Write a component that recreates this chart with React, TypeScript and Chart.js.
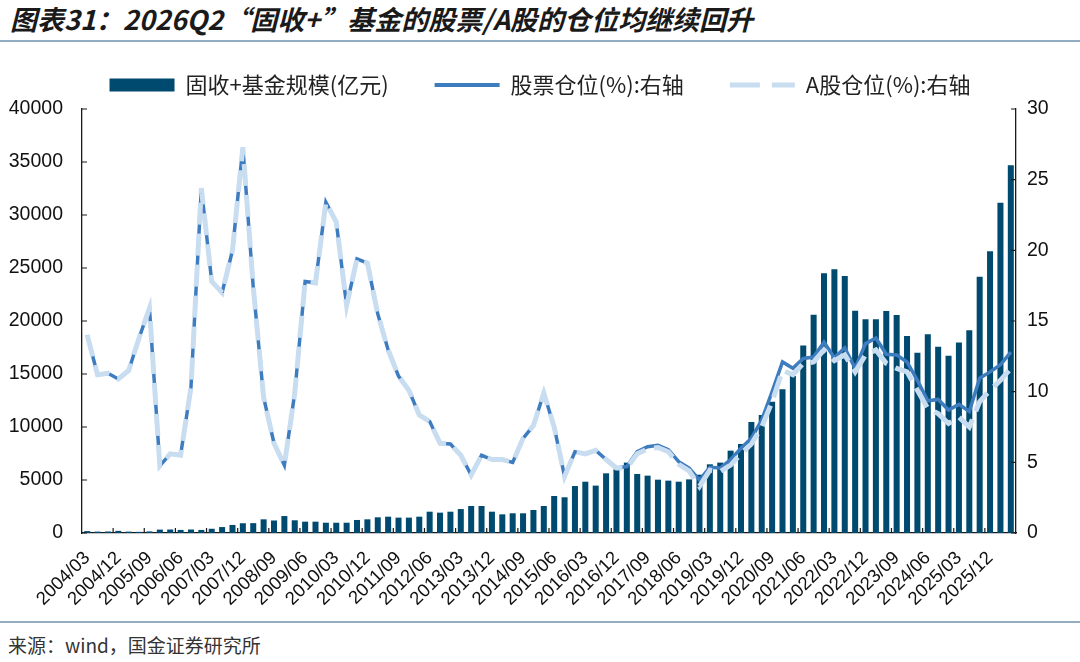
import { useEffect, useRef } from "react";
import { Chart, registerables } from "chart.js";

Chart.register(...registerables);

// 2004Q1 .. 2026Q2, quarterly
const categories = [
  "2004/03", "2004/06", "2004/09", "2004/12",
  "2005/03", "2005/06", "2005/09", "2005/12",
  "2006/03", "2006/06", "2006/09", "2006/12",
  "2007/03", "2007/06", "2007/09", "2007/12",
  "2008/03", "2008/06", "2008/09", "2008/12",
  "2009/03", "2009/06", "2009/09", "2009/12",
  "2010/03", "2010/06", "2010/09", "2010/12",
  "2011/03", "2011/06", "2011/09", "2011/12",
  "2012/03", "2012/06", "2012/09", "2012/12",
  "2013/03", "2013/06", "2013/09", "2013/12",
  "2014/03", "2014/06", "2014/09", "2014/12",
  "2015/03", "2015/06", "2015/09", "2015/12",
  "2016/03", "2016/06", "2016/09", "2016/12",
  "2017/03", "2017/06", "2017/09", "2017/12",
  "2018/03", "2018/06", "2018/09", "2018/12",
  "2019/03", "2019/06", "2019/09", "2019/12",
  "2020/03", "2020/06", "2020/09", "2020/12",
  "2021/03", "2021/06", "2021/09", "2021/12",
  "2022/03", "2022/06", "2022/09", "2022/12",
  "2023/03", "2023/06", "2023/09", "2023/12",
  "2024/03", "2024/06", "2024/09", "2024/12",
  "2025/03", "2025/06", "2025/09", "2025/12",
  "2026/03", "2026/06",
];

// 固收+基金规模(亿元)
const fundScale = [
  180, 130, 140, 200, 130, 110, 150, 320,
  330, 290, 330, 290, 400, 560, 760, 920,
  930, 1290, 1180, 1600, 1200, 1070, 1070, 970,
  970, 970, 1230, 1290, 1480, 1540, 1450, 1450,
  1540, 2010, 1920, 2010, 2260, 2550, 2550, 2010,
  1760, 1860, 1860, 2170, 2550, 3490, 3370, 4430,
  4840, 4470, 5630, 6010, 6640, 5570, 5410, 5030,
  4940, 4840, 5060, 5500, 6480, 6640, 7770, 8400,
  10470, 11130, 12390, 13550, 14810, 17700, 20600, 24500,
  24880, 24250, 20970, 20160, 20160, 20940, 20570, 18590,
  17010, 18740, 17580, 16730, 17960, 19120, 24180, 26570,
  31160, 34690,
];

// 股票仓位(%)
const stockPosition = [
  14.0, 11.2, 11.3, 10.9, 11.5, 13.8, 15.9, 4.75,
  5.6, 5.5, 10.3, 24.4, 17.8, 17.0, 20.0, 27.3,
  17.4, 9.6, 6.35, 4.8, 9.9, 17.8, 17.7, 23.4,
  22.0, 16.1, 19.4, 19.1, 15.5, 12.95, 11.1, 10.1,
  8.35, 7.9, 6.35, 6.3, 5.5, 4.1, 5.5, 5.2,
  5.2, 5.0, 6.7, 7.6, 9.9, 7.5, 4.0, 5.75,
  5.6, 5.85, 5.2, 4.6, 4.7, 5.75, 6.1, 6.2,
  5.9, 5.05, 4.6, 3.75, 4.65, 4.6, 5.2, 6.0,
  6.7, 8.0, 10.0, 12.1, 11.65, 12.35, 12.45, 13.5,
  12.4, 13.1, 11.65, 13.4, 13.8, 12.65, 12.6, 12.1,
  10.8, 9.35, 9.45, 8.7, 9.1, 8.6, 10.95, 11.4,
  11.9, 12.8,
];

// A股仓位(%)
const aSharePosition = [
  14.0, 11.2, 11.3, 10.9, 11.5, 13.8, 15.9, 4.75,
  5.6, 5.5, 10.3, 24.4, 17.8, 17.0, 20.0, 27.3,
  17.4, 9.6, 6.35, 4.8, 9.9, 17.8, 17.7, 23.4,
  22.0, 16.1, 19.4, 19.1, 15.5, 12.95, 11.1, 10.1,
  8.35, 7.9, 6.35, 6.3, 5.5, 4.1, 5.5, 5.2,
  5.2, 5.0, 6.7, 7.6, 9.9, 7.5, 4.0, 5.75,
  5.6, 5.85, 5.2, 4.6, 4.6, 5.6, 5.95, 6.05,
  5.75, 4.85, 4.4, 3.3, 4.45, 4.35, 4.8, 5.6,
  6.3, 7.5, 9.3, 11.5, 11.2, 12.0, 12.1, 12.95,
  12.2, 12.6, 11.4, 12.6, 12.95, 12.0, 11.65, 11.4,
  10.1, 8.8, 8.45, 7.75, 8.2, 7.5, 9.3, 10.1,
  10.8, 11.65,
];

const FONT = '"Liberation Sans", Arial, "Noto Sans CJK SC", sans-serif';
const CJK = '"Noto Sans CJK SC", "Liberation Sans", sans-serif';
const AXIS = "#1a1a1a";
const BAR = "#004A70";
const DARK_LINE = "#3E7CC0";
const LIGHT_LINE = "#C9DDF1";
const RULE = "#93ADC2";

// axis tick marks point into the plot, as in the original
const innerTicks = {
  id: "innerTicks",
  afterDatasetsDraw(chart: any) {
    const { ctx, chartArea } = chart;
    const { left, right, bottom } = chartArea;
    const xs = chart.scales.x;
    const yl = chart.scales.y;
    const yr = chart.scales.y1;
    ctx.save();
    ctx.strokeStyle = AXIS;
    ctx.lineWidth = 1.2;
    ctx.beginPath();
    yl.ticks.forEach((_t: any, i: number) => {
      const py = yl.getPixelForTick(i);
      ctx.moveTo(left, py);
      ctx.lineTo(left + 5, py);
    });
    yr.ticks.forEach((_t: any, i: number) => {
      const py = yr.getPixelForTick(i);
      ctx.moveTo(right, py);
      ctx.lineTo(right - 5, py);
    });
    const half = (xs.getPixelForValue(1) - xs.getPixelForValue(0)) / 2;
    for (let i = 3; i < categories.length; i += 3) {
      const px = xs.getPixelForValue(i) - half;
      ctx.moveTo(px, bottom);
      ctx.lineTo(px, bottom - 5);
    }
    ctx.stroke();
    ctx.restore();
  },
};

// every third quarter label, rotated 45 degrees under its bar
const xLabels = {
  id: "xLabels",
  afterDraw(chart: any) {
    const { ctx, chartArea } = chart;
    const xs = chart.scales.x;
    ctx.save();
    ctx.font = `18.5px ${FONT}`;
    ctx.fillStyle = "#111";
    ctx.textAlign = "right";
    ctx.textBaseline = "middle";
    for (let i = 0; i < categories.length; i += 3) {
      ctx.save();
      ctx.translate(xs.getPixelForValue(i), chartArea.bottom + 22);
      ctx.rotate(-Math.PI / 4);
      ctx.fillText(categories[i], 0, 0);
      ctx.restore();
    }
    ctx.restore();
  },
};

// fixed legend block height so the plot top lands where the original has it
const legendHeight = {
  id: "legendHeight",
  beforeInit(chart: any) {
    const legend = chart.legend;
    if (!legend) return;
    const fit = legend.fit;
    legend.fit = function () {
      fit.call(this);
      this.height = 81;
    };
  },
};

function FundChart() {
  const chartRef = useRef<HTMLCanvasElement | null>(null);
  const chartInstance = useRef<Chart | null>(null);

  useEffect(() => {
    if (!chartRef.current) return;
    const ctx = chartRef.current.getContext("2d");
    if (!ctx) return;

    if (chartInstance.current) {
      chartInstance.current.destroy();
    }

    chartInstance.current = new Chart(ctx, {
      type: "bar",
      data: {
        labels: categories,
        datasets: [
          {
            type: "bar",
            label: "固收+基金规模(亿元)",
            data: fundScale,
            backgroundColor: BAR,
            borderWidth: 0,
            categoryPercentage: 1,
            barPercentage: 0.58,
            yAxisID: "y",
            order: 3,
          },
          {
            type: "line",
            label: "股票仓位(%):右轴",
            data: stockPosition,
            borderColor: DARK_LINE,
            backgroundColor: DARK_LINE,
            borderWidth: 3.5,
            pointRadius: 0,
            tension: 0,
            yAxisID: "y1",
            order: 2,
          },
          {
            type: "line",
            label: "A股仓位(%):右轴",
            data: aSharePosition,
            borderColor: LIGHT_LINE,
            backgroundColor: LIGHT_LINE,
            borderWidth: 5,
            borderDash: [22, 9],
            pointRadius: 0,
            tension: 0,
            yAxisID: "y1",
            order: 1,
          },
        ] as any,
      },
      options: {
        animation: false,
        responsive: true,
        maintainAspectRatio: false,
        layout: { padding: 0 },
        plugins: {
          tooltip: { enabled: false },
          legend: {
            position: "top",
            labels: {
              usePointStyle: true,
              pointStyleWidth: 65,
              boxWidth: 65,
              boxHeight: 13,
              padding: 46,
              color: "#222",
              font: { family: CJK, size: 22 },
              sort: (a: any, b: any) => a.datasetIndex - b.datasetIndex,
              generateLabels: (chart: any) => {
                const items = Chart.defaults.plugins.legend.labels.generateLabels(chart);
                return items.map((it: any) => {
                  if (it.datasetIndex === 0) return { ...it, pointStyle: "rect", lineWidth: 0 };
                  if (it.datasetIndex === 1) return { ...it, pointStyle: "line", lineWidth: 4 };
                  return { ...it, pointStyle: "line", lineWidth: 5, lineDash: [30, 12] };
                });
              },
            },
          },
        },
        scales: {
          x: {
            offset: true,
            grid: { display: false, drawTicks: false },
            border: { display: true, color: AXIS, width: 1.3 },
            ticks: { display: false, autoSkip: false },
            afterFit: (s: any) => {
              s.height = 87;
            },
          },
          y: {
            position: "left",
            min: 0,
            max: 40000,
            grid: { display: false, drawTicks: false },
            border: { display: true, color: AXIS, width: 1.3 },
            ticks: {
              stepSize: 5000,
              padding: 19,
              color: "#111",
              font: { family: FONT, size: 19.5 },
              callback: (v: any) => String(v),
            },
            afterFit: (s: any) => {
              s.width = 82;
            },
          },
          y1: {
            position: "right",
            min: 0,
            max: 30,
            grid: { display: false, drawTicks: false },
            border: { display: true, color: AXIS, width: 1.3 },
            ticks: {
              stepSize: 5,
              padding: 11,
              color: "#111",
              font: { family: FONT, size: 19.5 },
              callback: (v: any) => String(v),
            },
            afterFit: (s: any) => {
              s.width = 64;
            },
          },
        },
      },
      plugins: [legendHeight, innerTicks, xLabels],
    });

    return () => {
      if (chartInstance.current) {
        chartInstance.current.destroy();
        chartInstance.current = null;
      }
    };
  }, []);

  return <canvas ref={chartRef} />;
}

export default function App() {
  useEffect(() => {
    document.body.style.margin = "0";
  }, []);

  return (
    <div
      style={{
        position: "relative",
        width: 1080,
        height: 662,
        background: "#fff",
        overflow: "hidden",
      }}
    >
      <div
        style={{
          position: "absolute",
          left: 10,
          top: 1,
          fontFamily: '"Liberation Sans Narrow", "Noto Sans CJK SC", sans-serif',
          fontWeight: 700,
          fontStyle: "italic",
          fontSize: 27,
          lineHeight: "36px",
          color: "#1a1a1a",
          whiteSpace: "nowrap",
        }}
      >
        图表31：2026Q2“固收+”基金的股票/A股的仓位均继续回升
      </div>
      <div style={{ position: "absolute", left: 0, top: 40, width: 1080, height: 2, background: RULE }} />
      <div style={{ position: "absolute", left: 0, top: 28, width: 1080, height: 592 }}>
        <FundChart />
      </div>
      <div style={{ position: "absolute", left: 0, top: 621, width: 1080, height: 2, background: RULE }} />
      <div
        style={{
          position: "absolute",
          left: 8,
          top: 632,
          fontFamily: CJK,
          fontSize: 19,
          lineHeight: "26px",
          color: "#333",
          whiteSpace: "nowrap",
        }}
      >
        来源：wind，国金证券研究所
      </div>
    </div>
  );
}
